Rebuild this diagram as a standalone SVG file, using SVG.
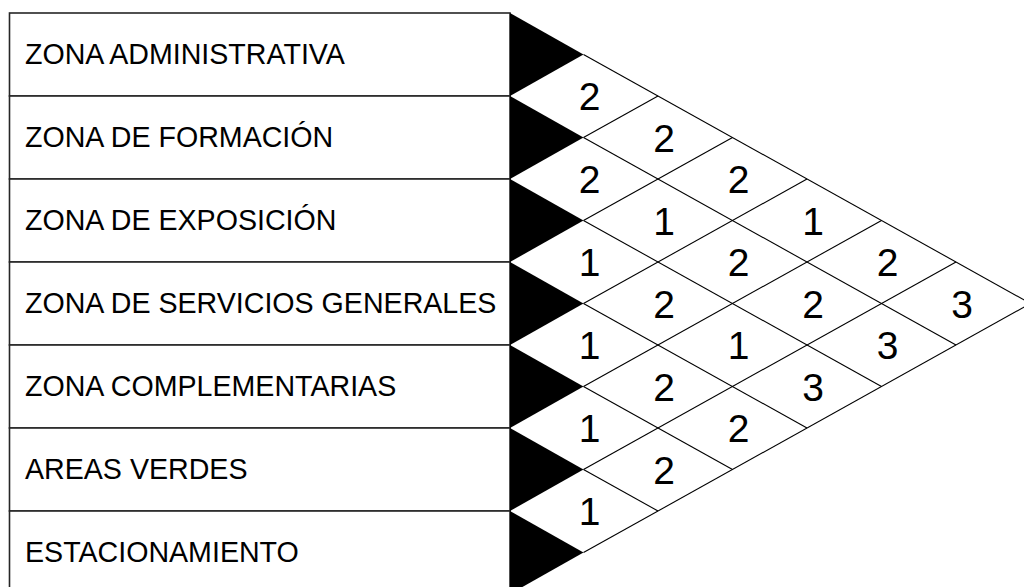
<svg xmlns="http://www.w3.org/2000/svg" width="1024" height="587" viewBox="0 0 1024 587">
<style>
.bg{fill:#ffffff}
.row{fill:#ffffff;stroke:#262626;stroke-width:1.6}
.tri{fill:#000000;stroke:none}
.lbl{font-family:"Liberation Sans",Arial,sans-serif;font-size:28.6px;fill:#000000}
.num{font-family:"Liberation Sans",Arial,sans-serif;font-size:39px;fill:#000000;text-anchor:middle}
.grid{stroke:#000000;stroke-width:1.1;fill:none}
</style>
<rect class="bg" x="0" y="0" width="1024" height="587"/>
<g id="rows">
<g id="row-1"><rect class="row" x="9.5" y="13" width="500.5" height="83"/><text class="lbl" x="25" y="63.5">ZONA ADMINISTRATIVA</text></g>
<g id="row-2"><rect class="row" x="9.5" y="96" width="500.5" height="83"/><text class="lbl" x="25" y="146.5">ZONA DE FORMACIÓN</text></g>
<g id="row-3"><rect class="row" x="9.5" y="179" width="500.5" height="83"/><text class="lbl" x="25" y="229.5">ZONA DE EXPOSICIÓN</text></g>
<g id="row-4"><rect class="row" x="9.5" y="262" width="500.5" height="83"/><text class="lbl" x="25" y="312.5">ZONA DE SERVICIOS GENERALES</text></g>
<g id="row-5"><rect class="row" x="9.5" y="345" width="500.5" height="83"/><text class="lbl" x="25" y="395.5">ZONA COMPLEMENTARIAS</text></g>
<g id="row-6"><rect class="row" x="9.5" y="428" width="500.5" height="83"/><text class="lbl" x="25" y="478.5">AREAS VERDES</text></g>
<g id="row-7"><rect class="row" x="9.5" y="511" width="500.5" height="90"/><text class="lbl" x="25" y="561.5">ESTACIONAMIENTO</text></g>
</g>
<g id="markers">
<polygon class="tri" points="510,13 510,96 583.5,54.5"/>
<polygon class="tri" points="510,96 510,179 583.5,137.5"/>
<polygon class="tri" points="510,179 510,262 583.5,220.5"/>
<polygon class="tri" points="510,262 510,345 583.5,303.5"/>
<polygon class="tri" points="510,345 510,428 583.5,386.5"/>
<polygon class="tri" points="510,428 510,511 583.5,469.5"/>
<polygon class="tri" points="510,511 510,594 583.5,552.5"/>
</g>
<g id="connectors" class="grid">
<line x1="583.5" y1="54.5" x2="1030.5" y2="303.5"/>
<line x1="583.5" y1="137.5" x2="956" y2="345"/>
<line x1="583.5" y1="220.5" x2="881.5" y2="386.5"/>
<line x1="583.5" y1="303.5" x2="807" y2="428"/>
<line x1="583.5" y1="386.5" x2="732.5" y2="469.5"/>
<line x1="583.5" y1="469.5" x2="658" y2="511"/>
<line x1="583.5" y1="137.5" x2="658" y2="96"/>
<line x1="583.5" y1="220.5" x2="732.5" y2="137.5"/>
<line x1="583.5" y1="303.5" x2="807" y2="179"/>
<line x1="583.5" y1="386.5" x2="881.5" y2="220.5"/>
<line x1="583.5" y1="469.5" x2="956" y2="262"/>
<line x1="583.5" y1="552.5" x2="1030.5" y2="303.5"/>
</g>
<g id="cells">
<text class="num" x="589.5" y="110">2</text>
<text class="num" x="589.5" y="193">2</text>
<text class="num" x="589.5" y="276">1</text>
<text class="num" x="589.5" y="359">1</text>
<text class="num" x="589.5" y="442">1</text>
<text class="num" x="589.5" y="525">1</text>
<text class="num" x="664" y="151.5">2</text>
<text class="num" x="664" y="234.5">1</text>
<text class="num" x="664" y="317.5">2</text>
<text class="num" x="664" y="400.5">2</text>
<text class="num" x="664" y="483.5">2</text>
<text class="num" x="738.5" y="193">2</text>
<text class="num" x="738.5" y="276">2</text>
<text class="num" x="738.5" y="359">1</text>
<text class="num" x="738.5" y="442">2</text>
<text class="num" x="813" y="234.5">1</text>
<text class="num" x="813" y="317.5">2</text>
<text class="num" x="813" y="400.5">3</text>
<text class="num" x="887.5" y="276">2</text>
<text class="num" x="887.5" y="359">3</text>
<text class="num" x="962" y="317.5">3</text>
</g>
</svg>
